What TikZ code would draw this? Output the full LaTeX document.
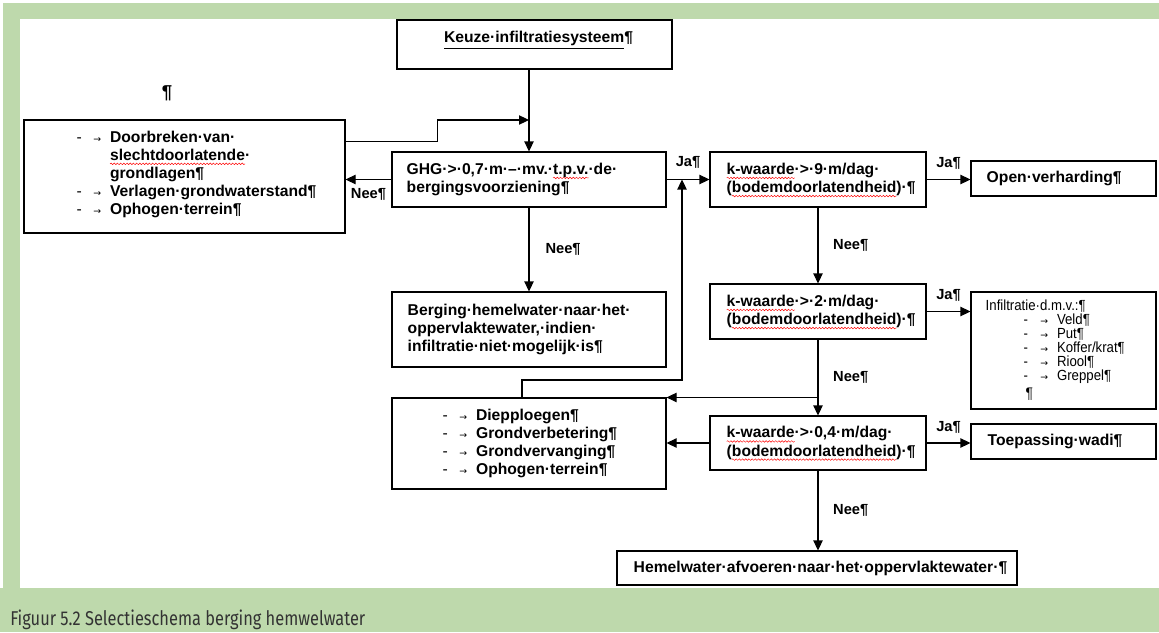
\documentclass[tikz,border=0pt]{standalone}
\usepackage{fontspec}
\setmainfont{Liberation Sans}
\newfontfamily\pijlfont{DejaVu Sans}
\newfontfamily\smalfont[FakeStretch=0.9]{Liberation Sans}
\newfontfamily\bijschriftfont[FakeStretch=0.82]{Fira Sans}
\usetikzlibrary{arrows.meta, decorations.pathmorphing}

\definecolor{kadergroen}{RGB}{190,217,172}

% rode golflijn van de spellingcontrole
\newsavebox\spelbox
\newlength\spellen
\newcommand\spel[1]{\sbox\spelbox{#1}\setlength\spellen{\wd\spelbox}%
    \rlap{\usebox\spelbox}%
    \tikz[overlay]\draw[red, line width=0.35pt, decorate, decoration={snake, amplitude=0.6pt, segment length=2.4pt}] (0pt,-2.6pt) -- (\spellen,-2.6pt);%
    \hskip\spellen}
\newcommand\tabpijl{{\pijlfont\mdseries\fontsize{7}{7}\selectfont →}}
\newcommand\opsom{\makebox[12.5pt][l]{\mdseries -}\makebox[12.5pt][l]{\tabpijl}}

\begin{document}
\begin{tikzpicture}[x=0.75pt, y=-0.75pt,
    kader/.style={draw, line width=0.8pt, inner sep=0pt},
    tekst/.style={inner sep=0pt, align=left, anchor=west, font=\bfseries\fontsize{11.75}{13.6}\selectfont},
    keuzelabel/.style={inner sep=1pt, font=\bfseries\fontsize{11}{13}\selectfont},
    pijl/.style={line width=0.8pt, -{Triangle[length=7.5pt, width=7pt]}}]

    % Achtergrond
    \useasboundingbox (0,0) rectangle (1159,632);
    \fill[kadergroen] (0,0) rectangle (1159,632);
    \fill[white] (0,0) rectangle (1159,3);
    \fill[white] (0,0) rectangle (3,588);
    \fill[white] (20,19) rectangle (1159,588);

    % Kaders
    \node[kader, minimum width=206.25pt, minimum height=36.75pt] (keuze) at (534.5,44.5) {};
    \node[kader, minimum width=240.75pt, minimum height=84.75pt] (maatr) at (184.5,176.5) {};
    \node[kader, minimum width=205.5pt, minimum height=41.25pt] (ghg) at (529,179.5) {};
    \node[kader, minimum width=205.5pt, minimum height=56.25pt] (berging) at (529,329.5) {};
    \node[kader, minimum width=205.5pt, minimum height=68.25pt] (maatr2) at (529,443.5) {};
    \node[kader, minimum width=162pt, minimum height=41.25pt] (k9) at (818,179.5) {};
    \node[kader, minimum width=162pt, minimum height=41.25pt] (k2) at (818,311.5) {};
    \node[kader, minimum width=162pt, minimum height=40.5pt] (k04) at (818,443) {};
    \node[kader, minimum width=138.75pt, minimum height=26.25pt] (open) at (1063.5,178.5) {};
    \node[kader, minimum width=138.75pt, minimum height=87.75pt] (infil) at (1063.5,350.5) {};
    \node[kader, minimum width=138.75pt, minimum height=26.25pt] (wadi) at (1063.5,441.5) {};
    \node[kader, minimum width=300pt, minimum height=25.5pt] (hemel) at (817,568) {};

    % Teksten
    \node[tekst, anchor=center] (keuzetekst) at ([xshift=3pt, yshift=-15.5pt]keuze.north) {\underline{Keuze·infiltratiesysteem}¶};
    \node[tekst, font=\bfseries\fontsize{14}{14}\selectfont, anchor=center] (losse) at (167,93) {¶};
    \node[tekst] (maatrtekst) at ([xshift=39.75pt, yshift=1.5pt]maatr.west)
        {\opsom Doorbreken·van·\\ \hspace*{25pt}\spel{slechtdoorlatende}·\\ \hspace*{25pt}grondlagen¶\\
         \opsom Verlagen·grondwaterstand¶\\ \opsom Ophogen·terrein¶};
    \node[tekst] (ghgtekst) at ([xshift=11.25pt]ghg.west) {GHG·>·0,7·m·–·mv.·\spel{t.p.v.}·de·\\bergingsvoorziening¶};
    \node[tekst] (bergingtekst) at ([xshift=12pt]berging.west)
        {Berging·hemelwater·naar·het·\\oppervlaktewater,·indien·\\infiltratie·niet·mogelijk·is¶};
    \node[tekst] (maatr2tekst) at ([xshift=38.25pt]maatr2.west)
        {\opsom Diepploegen¶\\ \opsom Grondverbetering¶\\ \opsom Grondvervanging¶\\ \opsom Ophogen·terrein¶};
    \node[tekst] (k9tekst) at ([xshift=12.75pt]k9.west) {\spel{k-waarde}·>·9·m/dag·\\(\spel{bodemdoorlatendheid})·¶};
    \node[tekst] (k2tekst) at ([xshift=12.75pt]k2.west) {\spel{k-waarde}·>·2·m/dag·\\(\spel{bodemdoorlatendheid})·¶};
    \node[tekst] (k04tekst) at ([xshift=12.75pt]k04.west) {\spel{k-waarde}·>·0,4·m/dag·\\(\spel{bodemdoorlatendheid})·¶};
    \node[tekst] (opentekst) at ([xshift=12pt]open.west) {Open·verharding¶};
    \node[tekst, font=\smalfont\fontsize{11}{10.5}\selectfont] (infiltekst) at ([xshift=11.25pt]infil.west)
        {Infiltratie·d.m.v.:¶\\ \hspace*{28.5pt}\opsom Veld¶\\ \hspace*{28.5pt}\opsom Put¶\\
         \hspace*{28.5pt}\opsom Koffer/krat¶\\ \hspace*{28.5pt}\opsom Riool¶\\
         \hspace*{28.5pt}\opsom Greppel¶\\[3pt] \hspace*{30pt}{\fontsize{11.5}{12}\selectfont ¶}};
    \node[tekst] (wadiTekst) at ([xshift=12.75pt]wadi.west) {Toepassing·wadi¶};
    \node[tekst] (hemeltekst) at ([xshift=12.75pt]hemel.west) {Hemelwater·afvoeren·naar·het·oppervlaktewater·¶};

    % Verbindingen
    \coordinate (samen) at (529,120);
    \coordinate (omhoog) at (682,380);
    \draw[pijl] (keuze.south -| ghg.north) -- (ghg.north);
    \draw[pijl] ([yshift=-16.5pt]maatr.north east) -- ++(92,0) |- (samen);
    \draw[pijl] (ghg.west) -- (ghg.west -| maatr.east) node[midway, below=5pt, keuzelabel] (nee1) {Nee¶};
    \draw[pijl] (ghg.south) -- (berging.north) node[midway, right=11pt, keuzelabel] (nee2) {Nee¶};
    \draw[pijl] (ghg.east) -- (k9.west) node[midway, above=7pt, keuzelabel] (ja1) {Ja¶};
    \draw[pijl] ([xshift=-5.25pt]maatr2.north) |- (omhoog) -- (omhoog |- ghg.east);
    \draw[pijl] (k9.east) -- (k9.east -| open.west) node[midway, above=6pt, keuzelabel] (ja2) {Ja¶};
    \draw[pijl] (k9.south) -- (k2.north) node[midway, right=10pt, keuzelabel] (nee3) {Nee¶};
    \draw[pijl] (k2.east) -- (k2.east -| infil.west) node[midway, above=6pt, keuzelabel] (ja3) {Ja¶};
    \draw[pijl] (k2.south) -- (k04.north) node[midway, right=10pt, keuzelabel] (nee4) {Nee¶};
    \draw[pijl] (k2.south |- maatr2.north east) -- (maatr2.north east);
    \draw[pijl] (k04.west) -- (k04.west -| maatr2.east);
    \draw[pijl] (k04.east) -- (k04.east -| wadi.west) node[midway, above=6pt, keuzelabel] (ja4) {Ja¶};
    \draw[pijl] (k04.south) -- (k04.south |- hemel.north) node[midway, right=10pt, keuzelabel] (nee5) {Nee¶};

    % Bijschrift
    \node[anchor=base west, inner sep=0pt, text=black!80, font=\bijschriftfont\fontsize{15}{15}\selectfont] (bijschrift) at (10,625)
        {Figuur 5.2 Selectieschema berging hemwelwater};
\end{tikzpicture}
\end{document}
